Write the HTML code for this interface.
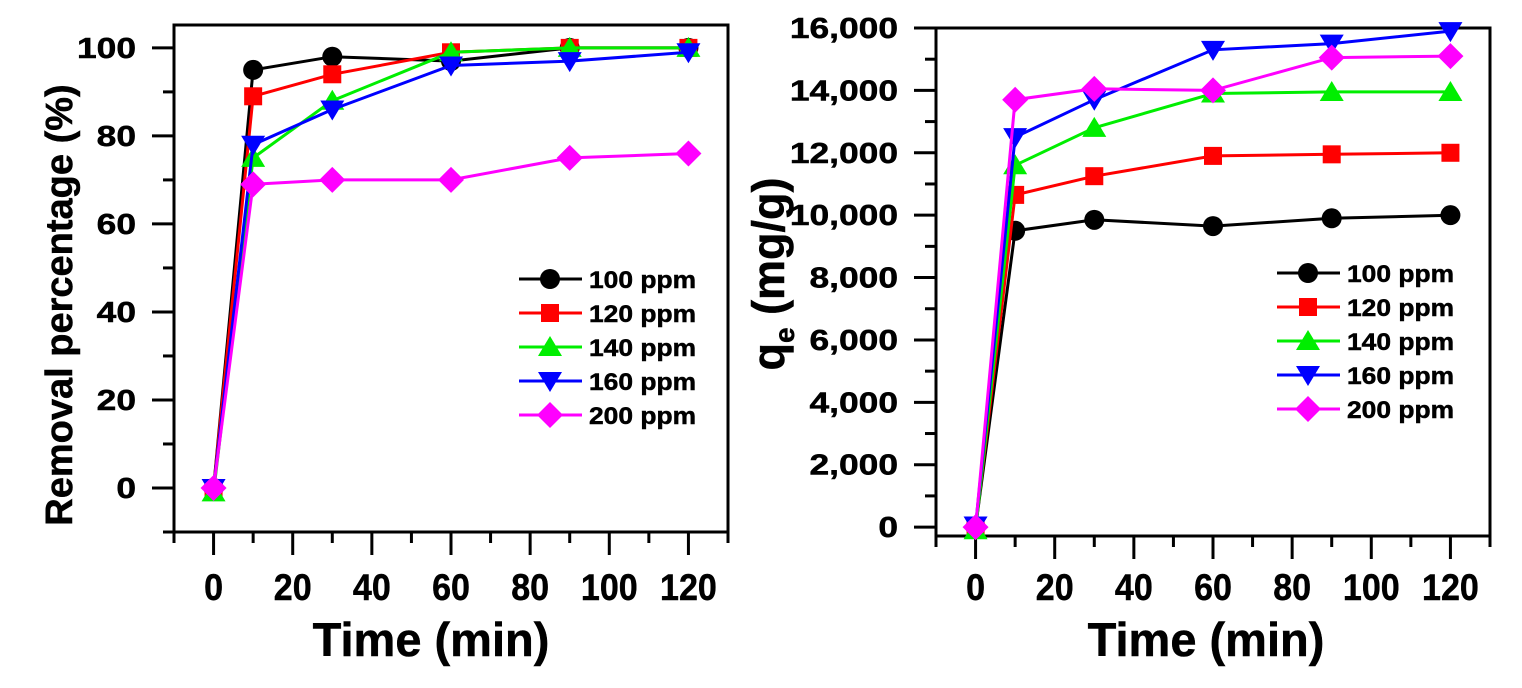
<!DOCTYPE html>
<html><head><meta charset="utf-8"><style>
html,body{margin:0;padding:0;background:#fff;width:1522px;height:688px;overflow:hidden}
svg{display:block}
text{font-family:"Liberation Sans",Arial,sans-serif;font-weight:bold;fill:#000;stroke:#000;stroke-width:0.5px}
</style></head><body>
<svg id="chart" width="1522" height="688" viewBox="0 0 1522 688" xmlns="http://www.w3.org/2000/svg"></svg>
<script>
const times = [0, 10, 30, 60, 90, 120];
const seriesLabels = ["100 ppm", "120 ppm", "140 ppm", "160 ppm", "200 ppm"];
const seriesColors = ["#000000", "#ff0000", "#00ee00", "#0000ff", "#ff00ff"];
const seriesMarkers = ["circle", "square", "up", "down", "diamond"];
const removal100 = [0, 95, 98, 97, 100, 100];
const removal120 = [0, 89, 94, 99, 100, 100];
const removal140 = [-1, 75, 88, 99, 100, 100];
const removal160 = [0, 78, 86, 96, 97, 99];
const removal200 = [0, 69, 70, 70, 75, 76];
const qe100 = [0, 9500, 9850, 9650, 9900, 10000];
const qe120 = [0, 10650, 11250, 11900, 11950, 12000];
const qe140 = [-100, 11600, 12800, 13900, 13950, 13950];
const qe160 = [50, 12500, 13700, 15300, 15500, 15900];
const qe200 = [0, 13700, 14050, 14000, 15050, 15100];
const xTicks = [0, 20, 40, 60, 80, 100, 120];
const leftYTicks = [0, 20, 40, 60, 80, 100];
const rightYTicks = [0, 2000, 4000, 6000, 8000, 10000, 12000, 14000, 16000];

const NS = "http://www.w3.org/2000/svg";
const svg = document.getElementById("chart");
function mk(tag, attrs, parent) {
  const e = document.createElementNS(NS, tag);
  for (const k in attrs) e.setAttribute(k, attrs[k]);
  (parent || svg).appendChild(e);
  return e;
}
function txt(parent, x, y, str, size, anchor, sx, rot) {
  const t = mk("text", {x: 0, y: 0, "text-anchor": anchor, "font-size": size,
    transform: `translate(${x},${y}) rotate(${rot || 0}) scale(${sx},1)`}, parent);
  t.textContent = str;
  return t;
}

function panel(cfg) {
  const g = mk("g", {});
  
  
  const xs = v => cfg.L + (v - cfg.xmin) / (cfg.xmax - cfg.xmin) * (cfg.R - cfg.L);
  const ys = v => cfg.B - (v - cfg.ymin) / (cfg.ymax - cfg.ymin) * (cfg.B - cfg.T);
  const frame = mk("rect", {x: cfg.L, y: cfg.T, width: cfg.R - cfg.L, height: cfg.B - cfg.T, fill: "none", stroke: "#000", "stroke-width": 3}, g);
  
  
  for (let v = -10; v <= 130; v += 10) {
    const major = v % 20 === 0 && v >= 0 && v <= 120;
    mk("line", {x1: xs(v), x2: xs(v), y1: cfg.B, y2: cfg.B + (major ? 23 : 11), stroke: "#000", "stroke-width": 3}, g);
  }
  xTicks.forEach(v => {
    const t = txt(g, xs(v), 600, String(v), 37, "middle", 0.92);
    
    
  });
  for (let v = cfg.minorStart; v <= cfg.ymax + 1e-6; v += cfg.minor) {
    const major = cfg.yTicks.indexOf(v) >= 0;
    mk("line", {x1: cfg.L - (major ? 22 : 11), x2: cfg.L, y1: ys(v), y2: ys(v), stroke: "#000", "stroke-width": 3}, g);
  }
  cfg.yTicks.forEach(v => {
    const t = txt(g, cfg.L - cfg.labGap, ys(v) + 10, cfg.fmt(v), 29, "end", 1.22);
    
    
  });
  const xt = txt(g, cfg.titleX, 656, "Time (min)", 47, "middle", 1);
  
  
  cfg.yTitle(g);
  const clip = "clip-" + cfg.name;
  const cp = mk("clipPath", {id: clip}, g);
  mk("rect", {x: cfg.L - 15, y: cfg.T - 15, width: cfg.R - cfg.L + 30, height: cfg.B - cfg.T + 30}, cp);
  cfg.data.forEach((arr, i) => {
    const sg = mk("g", {"clip-path": "url(#" + clip + ")"}, g);
    
    
    const pts = times.map((t, j) => xs(t).toFixed(1) + "," + ys(arr[j]).toFixed(1)).join(" ");
    const pl = mk("polyline", {points: pts, fill: "none", stroke: seriesColors[i], "stroke-width": 3}, sg);
    
    
    times.forEach((t, j) => {
      const m = marker(seriesMarkers[i], xs(t), ys(arr[j]), seriesColors[i], sg);
      
      
    });
  });
  const lg = mk("g", {}, g);
  
  
  seriesLabels.forEach((lab, i) => {
    const y = cfg.legY + i * 34;
    const eg = mk("g", {}, lg);
    
    
    mk("line", {x1: cfg.legX, x2: cfg.legX + 63, y1: y, y2: y, stroke: seriesColors[i], "stroke-width": 3}, eg);
    marker(seriesMarkers[i], cfg.legX + 31, y, seriesColors[i], eg);
    txt(eg, cfg.legX + 70, y + 9, lab, 24, "start", 1.1);
  });
}

function marker(type, x, y, c, parent) {
  const r = 10;
  if (type === "circle") return mk("circle", {cx: x, cy: y, r: r, fill: c}, parent);
  if (type === "square") return mk("rect", {x: x - 9, y: y - 9, width: 18, height: 18, fill: c}, parent);
  if (type === "up") return mk("polygon", {points: `${x},${y - 11} ${x - 12},${y + 9} ${x + 12},${y + 9}`, fill: c}, parent);
  if (type === "down") return mk("polygon", {points: `${x},${y + 11} ${x - 12},${y - 9} ${x + 12},${y - 9}`, fill: c}, parent);
  return mk("polygon", {points: `${x},${y - 13} ${x + 13},${y} ${x},${y + 13} ${x - 13},${y}`, fill: c}, parent);
}

panel({
  name: "removal-panel", L: 174, R: 728, T: 25, B: 532,
  xmin: -10, xmax: 130, ymin: -10, ymax: 105.2,
  yTicks: leftYTicks, minor: 10, minorStart: -10, labGap: 38, titleX: 431,
  fmt: v => String(v),
  data: [removal100, removal120, removal140, removal160, removal200],
  legX: 519, legY: 279,
  yTitle: g => {
    const t = txt(g, 72, 305, "Removal percentage (%)", 38, "middle", 1, -90);
    
    
  }
});
panel({
  name: "qe-panel", L: 936, R: 1490, T: 28, B: 536,
  xmin: -10, xmax: 130, ymin: -285, ymax: 16000,
  yTicks: rightYTicks, minor: 1000, minorStart: 0, labGap: 38, titleX: 1206,
  fmt: v => v.toLocaleString("en-US"),
  data: [qe100, qe120, qe140, qe160, qe200],
  legX: 1277, legY: 273,
  yTitle: g => {
    const t = mk("text", {x: 0, y: 0, "text-anchor": "middle", "font-size": 45, transform: "translate(784,274) rotate(-90)"}, g);
    
    
    const a = mk("tspan", {}, t); a.textContent = "q";
    const b = mk("tspan", {"font-size": 28, dy: 10}, t); b.textContent = "e";
    const c = mk("tspan", {dy: -10}, t); c.textContent = " (mg/g)";
  }
});
</script>
</body></html>
